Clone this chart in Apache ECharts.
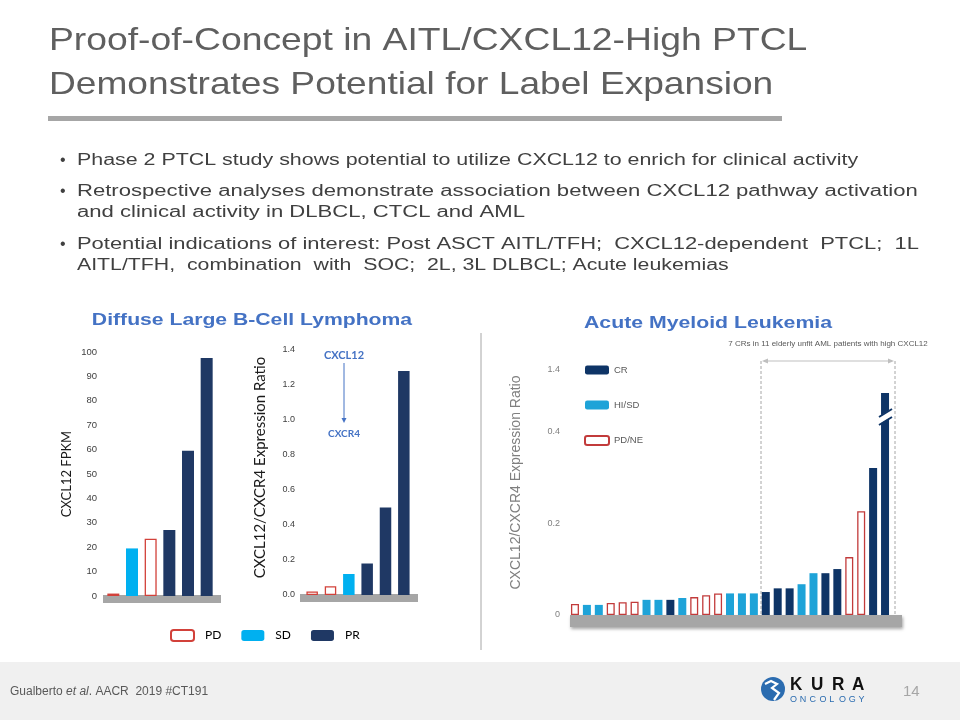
<!DOCTYPE html>
<html><head><meta charset="utf-8">
<script src="https://cdn.jsdelivr.net/npm/echarts@6/dist/echarts.min.js"></script>
<style>html,body{margin:0;padding:0;background:#fff}#c{width:960px;height:720px}</style>
</head><body><div id="c"></div>
<script>
// ---------- DATA ----------
const dlbclCats = ['1', '2', '3', '4', '5', '6'];
const fpkmPD = [1, '-', 23.5, '-', '-', '-'];
const fpkmSD = ['-', 19.5, '-', '-', '-', '-'];
const fpkmPR = ['-', '-', '-', 27, 59.5, 97.5];
const fpkmTicks = [0, 100, 10];

const ratioPD = [0.02, 0.05, '-', '-', '-', '-'];
const ratioSD = ['-', '-', 0.12, '-', '-', '-'];
const ratioPR = ['-', '-', '-', 0.18, 0.5, 1.28];
const ratioTicks = [0, 1.4, 0.2];

// AML: plotted heights on the (broken) linear ratio scale, and response per patient
const amlValues = [0.024, 0.022, 0.022, 0.026, 0.028, 0.029, 0.033, 0.033, 0.033, 0.037,
  0.039, 0.043, 0.047, 0.047, 0.047, 0.047, 0.050, 0.058, 0.058, 0.067,
  0.091, 0.091, 0.100, 0.126, 0.226, 0.320, 0.483];
const amlResponse = ['PD/NE', 'HI/SD', 'HI/SD', 'PD/NE', 'PD/NE', 'PD/NE', 'HI/SD', 'HI/SD', 'CR', 'HI/SD',
  'PD/NE', 'PD/NE', 'PD/NE', 'HI/SD', 'HI/SD', 'HI/SD', 'CR', 'CR', 'CR', 'HI/SD',
  'HI/SD', 'CR', 'CR', 'PD/NE', 'PD/NE', 'CR', 'CR'];
const amlTickValues = [0, 0.2, 0.4, 8 / 15];
const amlTickLabels = ['0', '0.2', '0.4', '1.4'];

// ---------- STYLE ----------
const AR = '"Liberation Sans", Arial, sans-serif';
const CB = 'Lato, "Open Sans", sans-serif';
const NAVY = '#1f3864', CYAN = '#00b0f0', RED = '#d2413a';
const NAVY2 = '#0e3466', CYAN2 = '#1ea3d8', RED2 = '#c23b3b';

const amlCats = amlValues.map((v, i) => String(i + 1));
function amlSeries(resp) { return amlValues.map((v, i) => amlResponse[i] === resp ? v : '-'); }

function bar(name, data, idx, color, border, bw) {
  return {
    type: 'bar', name, data, xAxisIndex: idx, yAxisIndex: idx, barWidth: bw, barGap: '-100%',
    itemStyle: border ? { color: '#fff', borderColor: border, borderWidth: 1.3 } : { color },
    emphasis: { disabled: true }
  };
}

const chart = echarts.init(document.getElementById('c'));

const yBase = { type: 'value', axisLine: { show: false }, axisTick: { show: false }, splitLine: { show: false } };
const xBase = { type: 'category', axisLine: { show: false }, axisTick: { show: false }, axisLabel: { show: false } };

const bulletFont = { fontSize: 16, fontFamily: AR, fill: '#404040' };
function T(text, x, y, o, sx) {
  return { type: 'text', z: 5, x, y, scaleX: sx || 1, style: Object.assign({ text, x: 0, y: 0, textVerticalAlign: 'middle' }, o) };
}

const graphics = [
  // footer band
  { type: 'rect', z: 0, shape: { x: 0, y: 662, width: 960, height: 58 }, style: { fill: '#f0f0f0' } },
  // title
  T('Proof-of-Concept in AITL/CXCL12-High PTCL', 49, 41, { fontSize: 32, fontFamily: AR, fill: '#5f5f5f' }, 1.165),
  T('Demonstrates Potential for Label Expansion', 49, 85, { fontSize: 32, fontFamily: AR, fill: '#5f5f5f' }, 1.16),
  { type: 'rect', z: 1, shape: { x: 48, y: 116, width: 734, height: 5 }, style: { fill: '#a6a6a6' } },
  // bullets
  T('•', 60, 161, bulletFont),
  T('Phase 2 PTCL study shows potential to utilize CXCL12 to enrich for clinical activity', 77, 161, bulletFont, 1.337),
  T('•', 60, 192, bulletFont),
  T('Retrospective analyses demonstrate association between CXCL12 pathway activation', 77, 192, bulletFont, 1.38),
  T('and clinical activity in DLBCL, CTCL and AML', 77, 213, bulletFont, 1.38),
  T('•', 60, 245, bulletFont),
  T('Potential indications of interest: Post ASCT AITL/TFH;  CXCL12-dependent  PTCL;  1L', 77, 245, bulletFont, 1.37),
  T('AITL/TFH,  combination  with  SOC;  2L, 3L DLBCL; Acute leukemias', 77, 266, bulletFont, 1.33),
  // section titles
  T('Diffuse Large B-Cell Lymphoma', 252, 320, { fontSize: 17, fontWeight: 'bold', fontFamily: AR, fill: '#4472c4', textAlign: 'center' }, 1.245),
  T('Acute Myeloid Leukemia', 708, 323, { fontSize: 17, fontWeight: 'bold', fontFamily: AR, fill: '#4472c4', textAlign: 'center' }, 1.25),
  // divider
  { type: 'line', z: 1, shape: { x1: 481, y1: 333, x2: 481, y2: 650 }, style: { stroke: '#a6a6a6', lineWidth: 1 } },
  // plinths
  { type: 'rect', z: 0, shape: { x: 103, y: 595, width: 118, height: 8 }, style: { fill: '#a6a6a6' } },
  { type: 'rect', z: 0, shape: { x: 300, y: 594, width: 118, height: 8 }, style: { fill: '#a6a6a6' } },
  { type: 'rect', z: 0, shape: { x: 570, y: 615, width: 332, height: 12 }, style: { fill: '#a6a6a6', shadowBlur: 3, shadowOffsetY: 2, shadowOffsetX: 1, shadowColor: 'rgba(0,0,0,0.35)' } },
  // CXCL12 -> CXCR4 annotation
  T('CXCL12', 344, 355, { fontSize: 11, fontWeight: 'bold', fontFamily: CB, fill: '#4472c4', textAlign: 'center' }),
  { type: 'line', z: 5, shape: { x1: 344, y1: 363, x2: 344, y2: 419 }, style: { stroke: '#4472c4', lineWidth: 1 } },
  { type: 'polygon', z: 5, shape: { points: [[341.5, 418], [346.5, 418], [344, 423]] }, style: { fill: '#4472c4' } },
  T('CXCR4', 344, 434, { fontSize: 10, fontWeight: 'bold', fontFamily: CB, fill: '#4472c4', textAlign: 'center' }),
  // AML bracket
  T('7 CRs in 11 elderly unfit AML patients with high CXCL12', 828, 344, { fontSize: 8, fontFamily: AR, fill: '#595959', textAlign: 'center' }),
  { type: 'line', z: 1, shape: { x1: 761, y1: 361, x2: 761, y2: 615 }, style: { stroke: '#a6a6a6', lineWidth: 1, lineDash: [3, 2] } },
  { type: 'line', z: 1, shape: { x1: 895, y1: 361, x2: 895, y2: 615 }, style: { stroke: '#a6a6a6', lineWidth: 1, lineDash: [3, 2] } },
  { type: 'line', z: 1, shape: { x1: 764, y1: 361, x2: 892, y2: 361 }, style: { stroke: '#bfbfbf', lineWidth: 1 } },
  { type: 'polygon', z: 1, shape: { points: [[762, 361], [768, 358.5], [768, 363.5]] }, style: { fill: '#bfbfbf' } },
  { type: 'polygon', z: 1, shape: { points: [[894, 361], [888, 358.5], [888, 363.5]] }, style: { fill: '#bfbfbf' } },
  // axis break on last bar
  { type: 'polygon', z: 10, shape: { points: [[878, 417], [893, 408], [893, 416], [878, 425]] }, style: { fill: '#fff' } },
  { type: 'line', z: 11, shape: { x1: 879, y1: 417, x2: 892, y2: 409 }, style: { stroke: NAVY2, lineWidth: 2 } },
  { type: 'line', z: 11, shape: { x1: 879, y1: 425, x2: 892, y2: 417 }, style: { stroke: NAVY2, lineWidth: 2 } },
  // footer text
  { type: 'text', z: 5, x: 10, y: 692, style: { x: 0, y: 0, textVerticalAlign: 'middle', text: '{n|Gualberto }{i|et al}{n|. AACR  2019 #CT191}',
    rich: { n: { fontSize: 12, fontFamily: AR, fill: '#595959', color: '#595959' }, i: { fontSize: 12, fontFamily: AR, fontStyle: 'italic', fill: '#595959', color: '#595959' } } } },
  T('14', 903, 692, { fontSize: 15, fontFamily: AR, fill: '#a6a6a6' }),
  // logo
  { type: 'circle', z: 5, shape: { cx: 773, cy: 689, r: 12 }, style: { fill: '#2b6cb0' } },
  { type: 'polyline', z: 6, shape: { points: [[765, 684], [771, 681], [777, 684], [772, 688], [779, 693], [774, 700]] }, style: { stroke: '#fff', lineWidth: 2.2, fill: null } },
  T('K', 790, 685, { fontSize: 19, fontWeight: 'bold', fontFamily: AR, fill: '#111' }, 0.9),
  T('U', 811, 685, { fontSize: 19, fontWeight: 'bold', fontFamily: AR, fill: '#111' }, 0.9),
  T('R', 832, 685, { fontSize: 19, fontWeight: 'bold', fontFamily: AR, fill: '#111' }, 0.9),
  T('A', 852, 685, { fontSize: 19, fontWeight: 'bold', fontFamily: AR, fill: '#111' }, 0.9)
];
'ONCOLOGY'.split('').forEach((ch, i) => graphics.push(T(ch, 790 + i * 9.8, 700, { fontSize: 9, fontFamily: AR, fill: '#2b6cb0' })));

chart.setOption({
  animation: false,
  backgroundColor: '#fff',
  grid: [
    { left: 104, width: 112, top: 352, height: 244 },
    { left: 303, width: 110, top: 350, height: 245 },
    { left: 569, width: 322, top: 370, height: 245 }
  ],
  xAxis: [
    Object.assign({ gridIndex: 0, data: dlbclCats }, xBase),
    Object.assign({ gridIndex: 1, data: dlbclCats }, xBase),
    Object.assign({ gridIndex: 2, data: amlCats }, xBase)
  ],
  yAxis: [
    Object.assign({}, yBase, { gridIndex: 0, min: fpkmTicks[0], max: fpkmTicks[1], interval: fpkmTicks[2],
      name: 'CXCL12 FPKM', nameLocation: 'middle', nameGap: 31,
      nameTextStyle: { fontFamily: CB, fontSize: 13, color: '#1a1a1a' },
      axisLabel: { fontFamily: AR, fontSize: 9.5, color: '#404040', margin: 7 } }),
    Object.assign({}, yBase, { gridIndex: 1, min: ratioTicks[0], max: ratioTicks[1], interval: ratioTicks[2],
      name: 'CXCL12/CXCR4 Expression Ratio', nameLocation: 'middle', nameGap: 35,
      nameTextStyle: { fontFamily: CB, fontSize: 15, color: '#1a1a1a', padding: [0, 0, 0, 10] },
      axisLabel: { fontFamily: AR, fontSize: 9, color: '#404040', margin: 8, formatter: v => v.toFixed(1) } }),
    Object.assign({}, yBase, { gridIndex: 2, min: 0, max: amlTickValues[3], interval: 1 / 15,
      name: 'CXCL12/CXCR4 Expression Ratio', nameLocation: 'middle', nameGap: 46,
      nameTextStyle: { fontFamily: AR, fontSize: 14, color: '#7f7f7f', padding: [0, 0, 0, 20] },
      axisLabel: { fontFamily: AR, fontSize: 9, color: '#7f7f7f', margin: 9,
        formatter: v => { const k = amlTickValues.findIndex(t => Math.abs(t - v) < 1e-6); return k >= 0 ? amlTickLabels[k] : ''; } } })
  ],
  legend: [
    { data: ['PD', 'SD', 'PR'], left: 165, top: 624, itemWidth: 23, itemHeight: 11, itemGap: 20, icon: 'roundRect',
      textStyle: { fontFamily: CB, fontSize: 12, color: '#000', padding: [0, 0, 0, 6] }, selectedMode: false },
    { data: ['CR', 'HI/SD', 'PD/NE'], orient: 'vertical', left: 579, top: 360, itemWidth: 24, itemHeight: 9, itemGap: 25, icon: 'roundRect',
      textStyle: { fontFamily: AR, fontSize: 9.5, color: '#595959' }, selectedMode: false }
  ],
  series: [
    bar('PD', fpkmPD, 0, null, RED, 12),
    bar('SD', fpkmSD, 0, CYAN, null, 12),
    bar('PR', fpkmPR, 0, NAVY, null, 12),
    bar('PD', ratioPD, 1, null, RED, 11.5),
    bar('SD', ratioSD, 1, CYAN, null, 11.5),
    bar('PR', ratioPR, 1, NAVY, null, 11.5),
    bar('CR', amlSeries('CR'), 2, NAVY2, null, 8),
    bar('HI/SD', amlSeries('HI/SD'), 2, CYAN2, null, 8),
    bar('PD/NE', amlSeries('PD/NE'), 2, null, RED2, 8)
  ],
  graphic: graphics
});
</script>
</body></html>
